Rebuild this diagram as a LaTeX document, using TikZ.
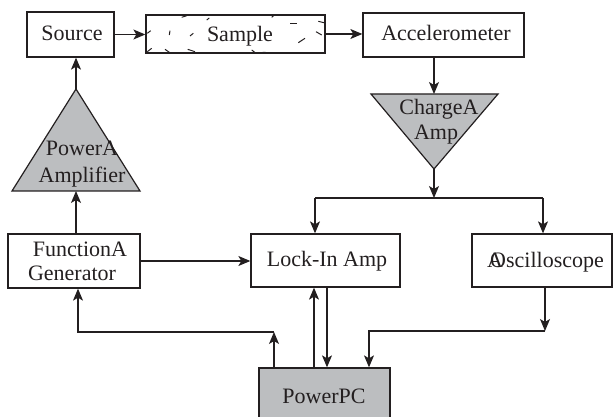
\documentclass[tikz,border=0pt]{standalone}
\usepackage{fontspec}
\setmainfont{Liberation Serif}
\usetikzlibrary{arrows.meta}
\definecolor{ink}{HTML}{231F20}
\definecolor{ampgray}{HTML}{BCBEC0}
\begin{document}
\begin{tikzpicture}[x=1pt,y=-1pt,
  line width=1.2pt, draw=ink,
  >={Stealth[length=12pt,width=10pt,inset=3pt]},
  box/.style={draw=ink, line width=1.3pt, inner sep=0pt},
  grayfill/.style={fill=ampgray},
  lbl/.style={font=\fontsize{22}{26}\selectfont, text=ink, inner sep=0pt, anchor=base},
  link/.style={draw=ink, line width=1.2pt},
  hatch/.style={draw=ink, line width=1pt}]
\useasboundingbox (0,0) rectangle (614,417);
\clip (0,0) rectangle (614,417);

% boxes
\node[box, minimum width=87pt, minimum height=45pt] (src) at (70.5,34.5) {};
\node[box, minimum width=179pt, minimum height=38pt] (smp) at (235.5,34) {};
\node[box, minimum width=161pt, minimum height=44pt] (acc) at (443.5,35) {};
\node[box, minimum width=132pt, minimum height=54pt] (fg) at (74,261) {};
\node[box, minimum width=149pt, minimum height=53pt] (lock) at (325.5,260.5) {};
\node[box, minimum width=140pt, minimum height=53pt] (osc) at (542,260.5) {};
\node[box, grayfill, minimum width=131pt, minimum height=58pt] (pc) at (324.5,397) {};

% sample texture
\foreach \a/\b/\c/\d in {147.3/33.3/150.7/30.7, 170/30.7/169.3/35, 190/36/193.3/33.3,
  147.3/51.7/151.7/48.3, 165/49.3/170.7/53.3, 187.7/49.3/195/51.7, 181.7/17.3/186.7/15.7,
  206.7/20/209.3/18, 271.7/17.3/274/15.3, 290/23.3/297.3/23.3, 318.3/21.3/324/22.7,
  316/31.7/321.7/35, 298.3/42.7/305/38.3, 251.7/50/256/53.3, 262.7/52.3/268.3/52.7}
  \draw[hatch] (\a,\b) -- (\c,\d);

% triangles
\coordinate (ptop) at (76,89);
\coordinate (pbl) at (12,191);
\coordinate (pbr) at (140,191);
\coordinate (pbase) at (76,191);
\draw[grayfill, line width=1.2pt, line join=miter] (pbl) -- (ptop) -- (pbr) -- cycle;
\coordinate (ctl) at (371,94);
\coordinate (ctr) at (498,94);
\coordinate (ctop) at (434,94);
\coordinate (capex) at (434,169);
\draw[grayfill, line width=1.2pt, line join=miter] (ctl) -- (ctr) -- (capex) -- cycle;

% labels
\node[lbl] (srct) at (72,41) {Source};
\node[lbl] (smpt) at (240,42) {Sample};
\node[lbl] (acct) at (446,41) {Accelerometer};
\node[lbl] (pat1) at (82,156) {PowerA};
\node[lbl] (pat2) at (82,183) {Amplifier};
\node[lbl] (cat1) at (439,115) {ChargeA};
\node[lbl] (cat2) at (436,140) {Amp};
\node[lbl] (fgt1) at (80,257) {FunctionA};
\node[lbl] (fgt2) at (72,280) {Generator};
\node[lbl] (lockt) at (327,267) {Lock-In Amp};
\node[lbl] (osct) at (545.5,268) {\makebox[3pt][l]{A}Oscilloscope};
\node[lbl] (pct) at (324,403) {PowerPC};

% helper coordinates
\coordinate (brc) at (434,198);
\coordinate (brL) at (315,198);
\coordinate (brR) at (543,198);
\coordinate (upx) at (314,0);
\coordinate (dnx) at (327,0);
\coordinate (fgx) at (78,0);
\coordinate (pcl) at (274,332);
\coordinate (oscj) at (545,331);
\coordinate (pcr) at (369,331);

% connectors
\draw[link,->] (src.east) -- (src.east -| smp.west);
\draw[link,->] (smp.east) -- (smp.east -| acc.west);
\draw[link,->] (ctop |- acc.south) -- (ctop);
\draw[link,->] (ptop) -- (ptop |- src.south);
\draw[link,->] (pbase |- fg.north) -- (pbase);
\draw[link,->] (fg.east) -- (fg.east -| lock.west);
\draw[link,->] (capex) -- (brc);
\draw[link] (brL) -- (brR);
\draw[link,->] (brL) -- (brL |- lock.north);
\draw[link,->] (brR) -- (brR |- osc.north);
\draw[link,->] (upx |- pc.north) -- (upx |- lock.south);
\draw[link,->] (dnx |- lock.south) -- (dnx |- pc.north);
\draw[link,->] (pcl |- pc.north) -- (pcl);
\draw[link,->] (pcl) -- (fgx |- pcl) -- (fgx |- fg.south);
\draw[link,->] (oscj |- osc.south) -- (oscj);
\draw[link,->] (oscj) -- (pcr) -- (pcr |- pc.north);
\end{tikzpicture}
\end{document}
